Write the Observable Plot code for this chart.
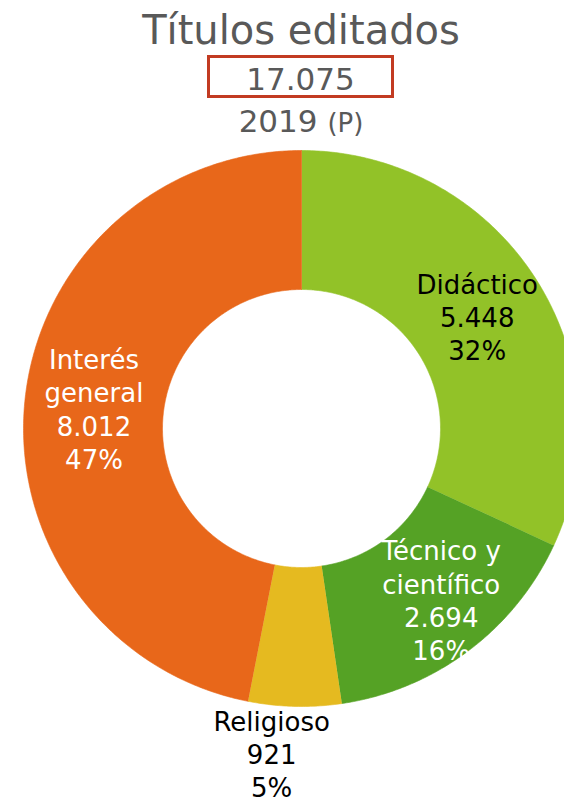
<!DOCTYPE html>
<html>
<head>
<meta charset="utf-8">
<script src="https://cdn.jsdelivr.net/npm/d3@7"></script>
<script src="https://cdn.jsdelivr.net/npm/@observablehq/plot@0.6"></script>
<style>
  html, body { margin: 0; padding: 0; background: #fff; overflow: hidden; }
  body { width: 564px; height: 803px; position: relative; font-family: "DejaVu Sans", sans-serif; color: #595959; }
  #head { position: relative; width: 564px; height: 140px; }
  .c { position: absolute; left: 301px; transform: translateX(-50%); white-space: nowrap; }
  #title { top: 10px; font-size: 40px; line-height: 40px; }
  #total { position: absolute; left: 207px; top: 55px; width: 187px; height: 43px; box-sizing: border-box;
           border: 3px solid #C23B22; text-align: center; font-size: 31px; line-height: 42px; }
  #year { top: 106px; font-size: 31px; line-height: 31px; }
  #year span { font-size: 26px; }
  #chart svg { display: block; }
</style>
</head>
<body>
<div id="head">
  <div id="title" class="c"></div>
  <div id="total"></div>
  <div id="year" class="c"></div>
</div>
<div id="chart"></div>
<script>
const categories = ["Didáctico", "Técnico y científico", "Religioso", "Interés general"];
const values = [5448, 2694, 921, 8012];
const sliceColors = ["#92C228", "#55A225", "#E5BA20", "#E8671A"];
const darkLabels = ["Didáctico", "Religioso"];
const titleText = "Títulos editados";
const yearText = "2019";
const statusText = "(P)";

const es = d3.formatLocale({decimal: ",", thousands: ".", grouping: [3], currency: ["", " €"]});
const fmt = es.format(",d");
const total = d3.sum(values);

document.getElementById("title").textContent = titleText;
document.getElementById("total").textContent = fmt(total);
const yearEl = document.getElementById("year");
yearEl.textContent = yearText + " ";
const sp = document.createElement("span");
sp.textContent = statusText;
yearEl.appendChild(sp);

const data = categories.map((c, i) => ({cat: c, value: values[i]}));
const arcs = d3.pie().sort(null).value(d => d.value)(data);
const R = 278, r0 = 139;

const pts = [];
arcs.forEach(a => {
  const n = Math.max(2, Math.ceil((a.endAngle - a.startAngle) / (Math.PI / 360)));
  for (let k = 0; k <= n; k++) {
    const t = a.startAngle + (a.endAngle - a.startAngle) * k / n;
    pts.push({cat: a.data.cat, x: R * Math.sin(t), y: R * Math.cos(t)});
  }
  for (let k = n; k >= 0; k--) {
    const t = a.startAngle + (a.endAngle - a.startAngle) * k / n;
    pts.push({cat: a.data.cat, x: r0 * Math.sin(t), y: r0 * Math.cos(t)});
  }
});

function wrap(s) {
  const i = s.lastIndexOf(" ");
  return i < 0 ? s : s.slice(0, i) + "\n" + s.slice(i + 1);
}
// label placement tweaks (layout only)
const nudge = {"Técnico y científico": [15, -4], "Religioso": [-22, 3]};
const labels = arcs.map(a => {
  const mid = (a.startAngle + a.endAngle) / 2;
  const outside = a.data.cat === "Religioso";
  const rl = outside ? R + 50 : (R + r0) / 2;
  const [dx, dy] = nudge[a.data.cat] || [0, 0];
  return {
    cat: a.data.cat,
    x: rl * Math.sin(mid) + dx,
    y: rl * Math.cos(mid) + dy,
    text: wrap(a.data.cat) + "\n" + fmt(a.data.value) + "\n" + Math.round(a.data.value / total * 100) + "%"
  };
});

const textOpts = {x: "x", y: "y", text: "text", fontSize: 26, lineHeight: 1.28, fontFamily: "DejaVu Sans"};

const chart = Plot.plot({
  width: 564,
  height: 663,
  margin: 0,
  style: {background: "white", overflow: "hidden"},
  x: {domain: [-301, 263], axis: null},
  y: {domain: [-375, 288], axis: null},
  color: {domain: categories, range: sliceColors},
  marks: [
    Plot.line(pts, {x: "x", y: "y", z: "cat", fill: "cat", stroke: "cat", strokeWidth: 0.6, clip: true}),
    Plot.text(labels.filter(d => darkLabels.includes(d.cat)), {...textOpts, fill: "black"}),
    Plot.text(labels.filter(d => !darkLabels.includes(d.cat)), {...textOpts, fill: "white"})
  ]
});
document.getElementById("chart").appendChild(chart);
</script>
</body>
</html>
